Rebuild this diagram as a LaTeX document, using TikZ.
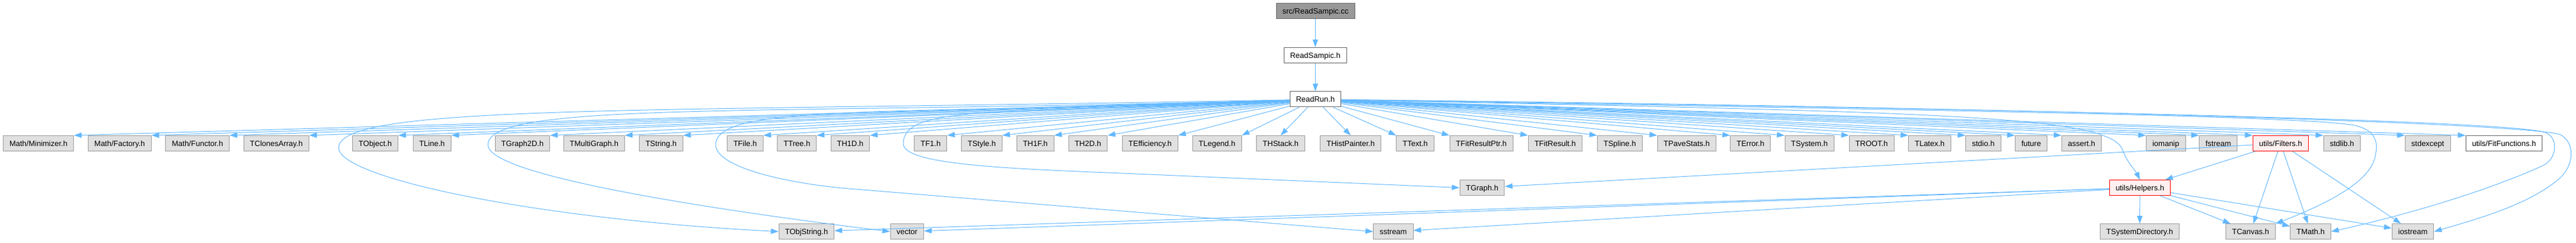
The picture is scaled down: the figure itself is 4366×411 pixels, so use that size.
\documentclass[tikz,border=0pt]{standalone}
\usepackage{fontspec}
\setmainfont{Liberation Sans}
\usepackage{tikz}
\usetikzlibrary{arrows.meta}

\definecolor{linkblue}{HTML}{63B8FF}
\definecolor{boxgray}{HTML}{E0E0E0}
\definecolor{rimgray}{HTML}{999999}
\definecolor{rimdark}{HTML}{666666}
\definecolor{boxred}{HTML}{FFF0F0}

\begin{document}
\begin{tikzpicture}[x=1pt, y=-1pt]
				\useasboundingbox (0,0) rectangle (4366,411);
				\begin{scope}[every node/.style = {rectangle, draw=rimgray, fill=boxgray, line width=1pt,
						inner xsep=10.5pt, inner ysep=0pt, minimum height=26pt,
						text height=9.5pt, text depth=0pt, font=\fontsize{13}{15}\selectfont},
					srcfile/.style = {draw=rimdark, fill=rimgray},
					docfile/.style = {draw=rimdark, fill=white},
					redfile/.style = {draw=red, fill=boxred}]
					\node[srcfile] (SRC) at (2229.5,18.5) {src/ReadSampic.cc};
					\node[docfile] (RSH) at (2229.2,93.3) {ReadSampic.h};
					\node[docfile] (RRH) at (2229.4,168) {ReadRun.h};
					% first row
					\node (MIN) at (65.2,242.5) {Math/Minimizer.h};
					\node (FAC) at (202.8,242.5) {Math/Factory.h};
					\node (FUN) at (334.7,242.5) {Math/Functor.h};
					\node (TCA) at (468.4,242.5) {TClonesArray.h};
					\node (TOB) at (636,242.5) {TObject.h};
					\node (TLI) at (732.2,242.5) {TLine.h};
					\node (TG2) at (885.5,242.5) {TGraph2D.h};
					\node (TMG) at (1006.8,242.5) {TMultiGraph.h};
					\node (TST) at (1120.4,242.5) {TString.h};
					\node (TFI) at (1262.9,242.5) {TFile.h};
					\node (TTR) at (1350.7,242.5) {TTree.h};
					\node (H1D) at (1441,242.5) {TH1D.h};
					\node (TF1) at (1577.3,242.5) {TF1.h};
					\node (STY) at (1663.9,242.5) {TStyle.h};
					\node (H1F) at (1754.7,242.5) {TH1F.h};
					\node (H2D) at (1843.9,242.5) {TH2D.h};
					\node (EFF) at (1949.3,242.5) {TEfficiency.h};
					\node (LEG) at (2062.7,242.5) {TLegend.h};
					\node (HST) at (2170.5,242.5) {THStack.h};
					\node (HPA) at (2289.2,242.5) {THistPainter.h};
					\node (TXT) at (2398.6,242.5) {TText.h};
					\node (FRP) at (2510.6,242.5) {TFitResultPtr.h};
					\node (FRE) at (2635.8,242.5) {TFitResult.h};
					\node (SPL) at (2745.3,242.5) {TSpline.h};
					\node (PAV) at (2858.7,242.5) {TPaveStats.h};
					\node (ERR) at (2966.8,242.5) {TError.h};
					\node (SYS) at (3066.7,242.5) {TSystem.h};
					\node (ROO) at (3172.1,242.5) {TROOT.h};
					\node (LAT) at (3270.6,242.5) {TLatex.h};
					\node (STD) at (3361.4,242.5) {stdio.h};
					\node (FUT) at (3442.6,242.5) {future};
					\node (ASR) at (3528,242.5) {assert.h};
					\node (IOM) at (3670.8,242.5) {iomanip};
					\node (FST) at (3759.7,242.5) {fstream};
					\node[redfile] (FLT) at (3865.3,242.5) {utils/Filters.h};
					\node (SLB) at (3969.3,242.5) {stdlib.h};
					\node (SEX) at (4114.7,242.5) {stdexcept};
					\node[docfile] (FFN) at (4244,242.5) {utils/FitFunctions.h};
					% second row
					\node (TGR) at (2512,317.5) {TGraph.h};
					\node[redfile] (HLP) at (3626.9,317.5) {utils/Helpers.h};
					% third row
					\node (OBS) at (1366.9,391.7) {TObjString.h};
					\node (VEC) at (1537.3,391.7) {vector};
					\node (SST) at (2361.4,391.7) {sstream};
					\node (TSD) at (3626.5,391.7) {TSystemDirectory.h};
					\node (CAN) at (3814.5,391.7) {TCanvas.h};
					\node (MTH) at (3916.1,391.7) {TMath.h};
					\node (IOS) at (4089.5,391.7) {iostream};
				\end{scope}
				\begin{scope}[>={Triangle[length=13pt, width=9pt]}, linkblue, line width=1pt,
						every edge/.style={draw=linkblue, line width=1pt}]
					\path [->] (SRC) edge (RSH);
					\path [->] (RSH) edge (RRH);
					% ReadRun.h to the first row
					\path [->] (RRH) edge (MIN.north east);
					\path [->] (RRH) edge (FAC.north east);
					\path [->] (RRH) edge (FUN.north east);
					\path [->] (RRH) edge (TCA.north east);
					\path [->] (RRH) edge (TOB.north east);
					\path [->] (RRH) edge (TLI.north east);
					\path [->] (RRH) edge (TG2.north east);
					\path [->] (RRH) edge (TMG.north east);
					\path [->] (RRH) edge (TST.north east);
					\path [->] (RRH) edge (TFI.north east);
					\path [->] (RRH) edge (TTR.north east);
					\path [->] (RRH) edge (H1D.north east);
					\path [->] (RRH) edge (TF1.north east);
					\path [->] (RRH) edge (STY.north east);
					\path [->] (RRH) edge (H1F.north east);
					\path [->] (RRH) edge (H2D.north east);
					\path [->] (RRH) edge (EFF.north east);
					\path [->] (RRH) edge (LEG.north east);
					\path [->] (RRH) edge (HST.north);
					\path [->] (RRH) edge (HPA.north);
					\path [->] (RRH) edge (TXT.north west);
					\path [->] (RRH) edge (FRP.north west);
					\path [->] (RRH) edge (FRE.north west);
					\path [->] (RRH) edge (SPL.north west);
					\path [->] (RRH) edge (PAV.north west);
					\path [->] (RRH) edge (ERR.north west);
					\path [->] (RRH) edge (SYS.north west);
					\path [->] (RRH) edge (ROO.north west);
					\path [->] (RRH) edge (LAT.north west);
					\path [->] (RRH) edge (STD.north west);
					\path [->] (RRH) edge (FUT.north west);
					\path [->] (RRH) edge (ASR.north west);
					\path [->] (RRH) edge (IOM.north west);
					\path [->] (RRH) edge (FST.north west);
					\path [->] (RRH) edge (FLT.north west);
					\path [->] (RRH) edge (SLB.north west);
					\path [->] (RRH) edge (SEX.north west);
					\path [->] (RRH) edge (FFN.north west);
					% ReadRun.h, long ways round
					\draw [->] (RRH) .. controls (1100,190) and (574,175) .. (574,250)
						.. controls (574,300) and (900,370) .. (OBS.west);
					\draw [->] (RRH) .. controls (1300,195) and (827,170) .. (827,245)
						.. controls (827,300) and (1250,360) .. (VEC.west);
					\draw [->] (RRH) .. controls (1500,195) and (1213,175) .. (1213,245)
						.. controls (1213,282) and (1330,311) .. (1450,320) -- (SST.west);
					\draw [->] (RRH) .. controls (1700,195) and (1531,175) .. (1531,243)
						.. controls (1531,278) and (1700,285) .. (1900,293) -- (TGR.west);
					\draw [->] (RRH) .. controls (3300,190) and (3580,195) .. (3598,255)
						.. controls (3605,274) and (3620,290) .. (HLP.north);
					\draw [->] (RRH) .. controls (3200,185) and (3900,195) .. (3990,212)
						.. controls (4030,220) and (4030,245) .. (4026,262)
						.. controls (4020,310) and (3930,350) .. (CAN.north east);
					\draw [->] (RRH) .. controls (3500,185) and (4280,205) .. (4316,225)
						.. controls (4338,236) and (4332,270) .. (4310,280)
						.. controls (4200,330) and (4050,370) .. (MTH.east);
					\draw [->] (RRH) .. controls (3500,182) and (4300,210) .. (4340,228)
						.. controls (4362,240) and (4365,275) .. (4340,300)
						.. controls (4290,345) and (4200,370) .. (IOS.east);
					% utils/Filters.h
					\path [->] (FLT) edge (TGR);
					\path [->] (FLT) edge (HLP);
					\path [->] (FLT) edge (CAN);
					\path [->] (FLT) edge (MTH);
					\path [->] (FLT) edge (IOS);
					% utils/Helpers.h
					\path [->] (HLP) edge (OBS);
					\path [->] (HLP) edge (VEC);
					\path [->] (HLP) edge (SST);
					\path [->] (HLP) edge (TSD);
					\path [->] (HLP) edge (CAN);
					\path [->] (HLP) edge (MTH);
					\path [->] (HLP) edge (IOS);
				\end{scope}
			\end{tikzpicture}
\end{document}
